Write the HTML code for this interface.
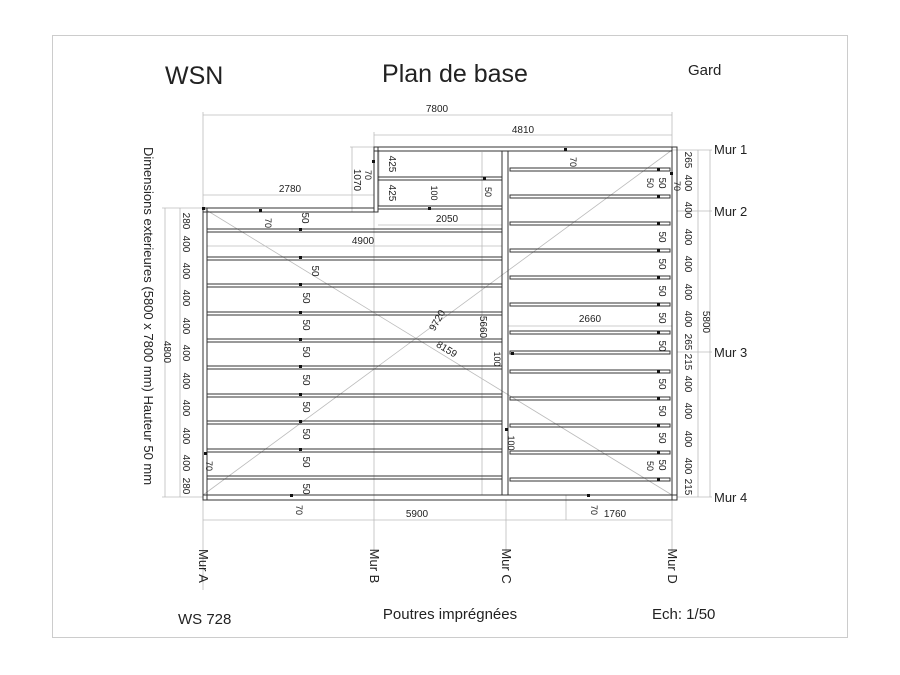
<!DOCTYPE html>
<html><head><meta charset="utf-8"><style>
html,body{margin:0;padding:0;background:#fff}
svg{display:block}
text{font-family:"Liberation Sans",sans-serif;fill:#222}
.d{stroke:#bbb;stroke-width:0.8;fill:none}
.s{stroke:#333;stroke-width:1;fill:none}
.t{font-size:10px}
</style></head><body>
<svg width="900" height="675" viewBox="0 0 900 675" xmlns="http://www.w3.org/2000/svg">
<rect x="52.5" y="35.5" width="795" height="602" fill="none" stroke="#ccc"/>
<text x="165" y="84" font-size="25">WSN</text>
<text x="455" y="82" font-size="25" text-anchor="middle">Plan de base</text>
<text x="688" y="75" font-size="15">Gard</text>
<text x="178" y="624" font-size="15">WS 728</text>
<text x="450" y="619" font-size="15" text-anchor="middle">Poutres imprégnées</text>
<text x="652" y="619" font-size="15">Ech: 1/50</text>
<text transform="translate(144,316) rotate(90)" font-size="13" text-anchor="middle">Dimensions exterieures (5800 x 7800 mm) Hauteur 50 mm</text>

<!-- dimension lines -->
<g class="d">
<line x1="203" y1="115" x2="672" y2="115"/><line x1="203" y1="112" x2="203" y2="208"/><line x1="672" y1="112" x2="672" y2="150"/>
<line x1="374" y1="135" x2="672" y2="135"/><line x1="374" y1="132" x2="374" y2="147"/>
<line x1="203" y1="195" x2="374" y2="195"/>
<line x1="352" y1="147" x2="352" y2="212"/><line x1="350" y1="147" x2="374" y2="147"/><line x1="350" y1="212" x2="374" y2="212"/>
<line x1="379" y1="150" x2="379" y2="206"/><line x1="378" y1="225" x2="502" y2="225"/>
<line x1="207" y1="246" x2="502" y2="246"/>
<line x1="508" y1="326" x2="672" y2="326"/>
<line x1="482" y1="152" x2="482" y2="495"/>
<line x1="203" y1="520" x2="672" y2="520"/><line x1="203" y1="500" x2="203" y2="590"/><line x1="672" y1="500" x2="672" y2="555"/>
<line x1="566" y1="495" x2="566" y2="520"/>
<line x1="374" y1="212" x2="374" y2="555"/><line x1="506" y1="500" x2="506" y2="555"/>
<line x1="165" y1="208" x2="165" y2="497"/><line x1="162" y1="208" x2="203" y2="208"/><line x1="162" y1="497" x2="203" y2="497"/>
<line x1="180" y1="208" x2="180" y2="497"/>
<line x1="698" y1="150" x2="698" y2="497"/><line x1="710" y1="150" x2="710" y2="497"/>
<line x1="672" y1="150" x2="712" y2="150"/><line x1="677" y1="211" x2="712" y2="211"/><line x1="677" y1="352" x2="712" y2="352"/><line x1="677" y1="497" x2="712" y2="497"/>
<line x1="203" y1="208" x2="672" y2="495"/><line x1="203" y1="495" x2="672" y2="150"/>
</g>

<!-- structure -->
<g class="s">
<rect x="203" y="208" width="4" height="292"/>
<rect x="672" y="147" width="5" height="353"/>
<rect x="203" y="495" width="474" height="5"/>
<rect x="374" y="147" width="298" height="4"/>
<rect x="374" y="147" width="4" height="65"/>
<rect x="203" y="208" width="171" height="4"/>
<rect x="378" y="206" width="124" height="3"/>
<rect x="502" y="151" width="6" height="344"/>
<rect x="378" y="177" width="124" height="3"/>
<rect x="207" y="229" width="295" height="3"/><rect x="207" y="257" width="295" height="3"/><rect x="207" y="284" width="295" height="3"/><rect x="207" y="312" width="295" height="3"/><rect x="207" y="339" width="295" height="3"/><rect x="207" y="366" width="295" height="3"/><rect x="207" y="394" width="295" height="3"/><rect x="207" y="421" width="295" height="3"/><rect x="207" y="449" width="295" height="3"/><rect x="207" y="476" width="295" height="3"/>
<rect x="510" y="168" width="160" height="3"/><rect x="510" y="195" width="160" height="3"/><rect x="510" y="222" width="160" height="3"/><rect x="510" y="249" width="160" height="3"/><rect x="510" y="276" width="160" height="3"/><rect x="510" y="303" width="160" height="3"/><rect x="510" y="331" width="160" height="3"/><rect x="510" y="351" width="160" height="3"/><rect x="510" y="370" width="160" height="3"/><rect x="510" y="397" width="160" height="3"/><rect x="510" y="424" width="160" height="3"/><rect x="510" y="451" width="160" height="3"/><rect x="510" y="478" width="160" height="3"/>
</g>
<g fill="#111">
<rect x="299" y="228" width="3" height="3"/><rect x="299" y="256" width="3" height="3"/><rect x="299" y="283" width="3" height="3"/><rect x="299" y="311" width="3" height="3"/><rect x="299" y="338" width="3" height="3"/><rect x="299" y="365" width="3" height="3"/><rect x="299" y="393" width="3" height="3"/><rect x="299" y="420" width="3" height="3"/><rect x="299" y="448" width="3" height="3"/><rect x="290" y="494" width="3" height="3"/>
<rect x="657" y="168" width="3" height="3"/><rect x="657" y="195" width="3" height="3"/><rect x="657" y="222" width="3" height="3"/><rect x="657" y="249" width="3" height="3"/><rect x="657" y="276" width="3" height="3"/><rect x="657" y="303" width="3" height="3"/><rect x="657" y="331" width="3" height="3"/><rect x="657" y="370" width="3" height="3"/><rect x="657" y="397" width="3" height="3"/><rect x="657" y="424" width="3" height="3"/><rect x="657" y="451" width="3" height="3"/><rect x="657" y="478" width="3" height="3"/>
<rect x="259" y="209" width="3" height="3"/><rect x="564" y="148" width="3" height="3"/><rect x="372" y="160" width="3" height="3"/><rect x="483" y="177" width="3" height="3"/><rect x="428" y="207" width="3" height="3"/><rect x="670" y="172" width="3" height="3"/><rect x="511" y="352" width="3" height="3"/><rect x="505" y="428" width="3" height="3"/><rect x="204" y="452" width="3" height="3"/><rect x="587" y="494" width="3" height="3"/><rect x="202" y="207" width="3" height="3"/>
</g>

<!-- labels -->
<g class="t">
<text x="437" y="112" text-anchor="middle">7800</text>
<text x="523" y="133" text-anchor="middle">4810</text>
<text x="290" y="192" text-anchor="middle">2780</text>
<text x="447" y="222" text-anchor="middle">2050</text>
<text x="363" y="244" text-anchor="middle">4900</text>
<text x="590" y="322" text-anchor="middle">2660</text>
<text x="417" y="517" text-anchor="middle">5900</text>
<text x="615" y="517" text-anchor="middle">1760</text>
<text transform="translate(354,180) rotate(90)" text-anchor="middle">1070</text>
<text transform="translate(389,164) rotate(90)" text-anchor="middle">425</text>
<text transform="translate(389,193) rotate(90)" text-anchor="middle">425</text>
<text transform="translate(431,193) rotate(90)" text-anchor="middle" font-size="9">100</text>
<text transform="translate(485,192) rotate(90)" text-anchor="middle" font-size="9">50</text>
<text transform="translate(480,327) rotate(90)" text-anchor="middle">5660</text>
<text transform="translate(440,322) rotate(-60)" text-anchor="middle">9720</text>
<text transform="translate(445,352) rotate(31)" text-anchor="middle">8159</text>
<text transform="translate(164,352) rotate(90)" text-anchor="middle">4800</text>
<text transform="translate(703,322) rotate(90)" text-anchor="middle">5800</text>
<text transform="translate(494,359) rotate(90)" text-anchor="middle" font-size="9">100</text>
<text transform="translate(508,443) rotate(90)" text-anchor="middle" font-size="9">100</text>
<text transform="translate(570,162) rotate(90)" text-anchor="middle" font-size="9">70</text>
<text transform="translate(365,175) rotate(90)" text-anchor="middle" font-size="9">70</text>
<text transform="translate(265,223) rotate(90)" text-anchor="middle" font-size="9">70</text>
<text transform="translate(206,466) rotate(90)" text-anchor="middle" font-size="9">70</text>
<text transform="translate(296,510) rotate(90)" text-anchor="middle" font-size="9">70</text>
<text transform="translate(591,510) rotate(90)" text-anchor="middle" font-size="9">70</text>
<text transform="translate(674,186) rotate(90)" text-anchor="middle" font-size="9">70</text>
<text transform="translate(647,183) rotate(90)" text-anchor="middle" font-size="9">50</text>
<text transform="translate(647,466) rotate(90)" text-anchor="middle" font-size="9">50</text>
</g>
<g class="t" font-size="9">
<text transform="translate(302,218) rotate(90)" text-anchor="middle">50</text>
<text transform="translate(312,271) rotate(90)" text-anchor="middle">50</text>
<text transform="translate(303,298) rotate(90)" text-anchor="middle">50</text>
<text transform="translate(303,325) rotate(90)" text-anchor="middle">50</text>
<text transform="translate(303,352) rotate(90)" text-anchor="middle">50</text>
<text transform="translate(303,380) rotate(90)" text-anchor="middle">50</text>
<text transform="translate(303,407) rotate(90)" text-anchor="middle">50</text>
<text transform="translate(303,434) rotate(90)" text-anchor="middle">50</text>
<text transform="translate(303,462) rotate(90)" text-anchor="middle">50</text>
<text transform="translate(303,489) rotate(90)" text-anchor="middle">50</text>
<text transform="translate(659,183) rotate(90)" text-anchor="middle">50</text>
<text transform="translate(659,237) rotate(90)" text-anchor="middle">50</text>
<text transform="translate(659,264) rotate(90)" text-anchor="middle">50</text>
<text transform="translate(659,291) rotate(90)" text-anchor="middle">50</text>
<text transform="translate(659,318) rotate(90)" text-anchor="middle">50</text>
<text transform="translate(659,346) rotate(90)" text-anchor="middle">50</text>
<text transform="translate(659,384) rotate(90)" text-anchor="middle">50</text>
<text transform="translate(659,411) rotate(90)" text-anchor="middle">50</text>
<text transform="translate(659,438) rotate(90)" text-anchor="middle">50</text>
<text transform="translate(659,465) rotate(90)" text-anchor="middle">50</text>
</g>
<g class="t">
<text transform="translate(183,221) rotate(90)" text-anchor="middle">280</text>
<text transform="translate(183,244) rotate(90)" text-anchor="middle">400</text>
<text transform="translate(183,271) rotate(90)" text-anchor="middle">400</text>
<text transform="translate(183,298) rotate(90)" text-anchor="middle">400</text>
<text transform="translate(183,326) rotate(90)" text-anchor="middle">400</text>
<text transform="translate(183,353) rotate(90)" text-anchor="middle">400</text>
<text transform="translate(183,381) rotate(90)" text-anchor="middle">400</text>
<text transform="translate(183,408) rotate(90)" text-anchor="middle">400</text>
<text transform="translate(183,436) rotate(90)" text-anchor="middle">400</text>
<text transform="translate(183,463) rotate(90)" text-anchor="middle">400</text>
<text transform="translate(183,486) rotate(90)" text-anchor="middle">280</text>
<text transform="translate(685,160) rotate(90)" text-anchor="middle">265</text>
<text transform="translate(685,183) rotate(90)" text-anchor="middle">400</text>
<text transform="translate(685,210) rotate(90)" text-anchor="middle">400</text>
<text transform="translate(685,237) rotate(90)" text-anchor="middle">400</text>
<text transform="translate(685,264) rotate(90)" text-anchor="middle">400</text>
<text transform="translate(685,292) rotate(90)" text-anchor="middle">400</text>
<text transform="translate(685,319) rotate(90)" text-anchor="middle">400</text>
<text transform="translate(685,342) rotate(90)" text-anchor="middle">265</text>
<text transform="translate(685,362) rotate(90)" text-anchor="middle">215</text>
<text transform="translate(685,384) rotate(90)" text-anchor="middle">400</text>
<text transform="translate(685,411) rotate(90)" text-anchor="middle">400</text>
<text transform="translate(685,439) rotate(90)" text-anchor="middle">400</text>
<text transform="translate(685,466) rotate(90)" text-anchor="middle">400</text>
<text transform="translate(685,487) rotate(90)" text-anchor="middle">215</text>
</g>
<g font-size="13">
<text x="714" y="154">Mur 1</text>
<text x="714" y="216">Mur 2</text>
<text x="714" y="357">Mur 3</text>
<text x="714" y="502">Mur 4</text>
<text transform="translate(199,566) rotate(90)" text-anchor="middle">Mur A</text>
<text transform="translate(370,566) rotate(90)" text-anchor="middle">Mur B</text>
<text transform="translate(502,566) rotate(90)" text-anchor="middle">Mur C</text>
<text transform="translate(668,566) rotate(90)" text-anchor="middle">Mur D</text>
</g>
</svg>
</body></html>
